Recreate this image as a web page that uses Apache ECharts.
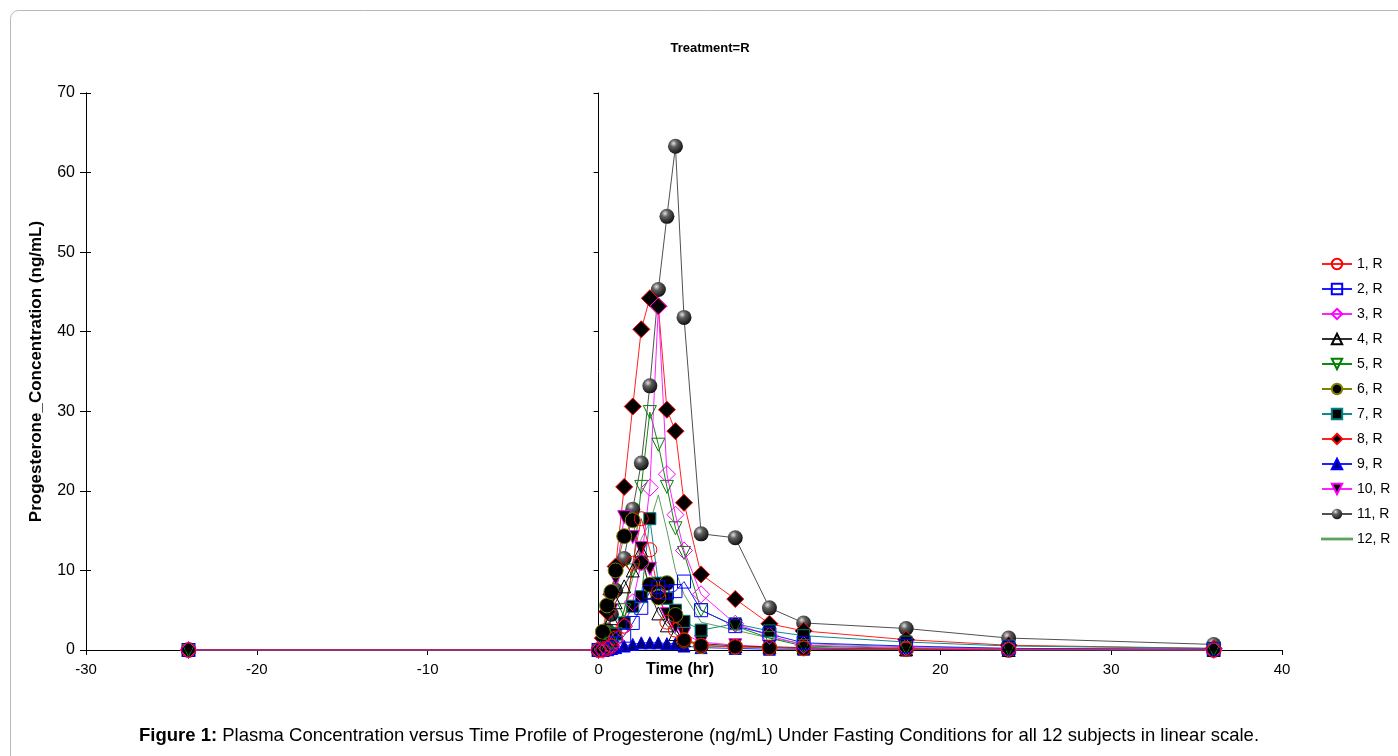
<!DOCTYPE html>
<html>
<head>
<meta charset="utf-8">
<script src="https://cdn.jsdelivr.net/npm/echarts@6/dist/echarts.min.js"></script>
<style>
html,body{margin:0;padding:0;background:#fff;}
#chart{width:1398px;height:756px;}
</style>
</head>
<body>
<div id="chart"></div>
<script>
// Sampling times (hr)
var times = [-24, 0, 0.25, 0.5, 0.75, 1, 1.5, 2, 2.5, 3, 3.5, 4, 4.5, 5, 6, 8, 10, 12, 18, 24, 36];
// Concentrations (ng/mL) per subject
var s1  = [0, 0, 0, 0.2, 0.5, 1.5, 3.0, 10.9, 16.5, 12.6, 7.3, 3.5, 2.5, 1.3, 0.6, 0.4, 0.3, 0.2, 0.1, 0.1, 0];
var s2  = [0, 0, 0, 0.1, 0.3, 0.8, 1.8, 3.4, 5.3, 7.3, 7.9, 7.2, 7.4, 8.6, 5.0, 3.0, 2.0, 0.9, 0.5, 0.2, 0.1];
var s3  = [0, 0, 0, 0.2, 0.5, 1.2, 3.0, 6.0, 11.0, 20.4, 43.2, 22.1, 17.0, 12.5, 7.0, 3.3, 1.8, 0.6, 0.3, 0.1, 0];
var s4  = [0, 0, 0.5, 2.0, 4.0, 6.0, 8.0, 10.0, 12.5, 7.2, 4.6, 3.1, 2.0, 1.2, 0.8, 0.5, 0.4, 0.3, 0.1, 0, 0];
var s5  = [0, 0, 0, 0.3, 0.8, 2.0, 5.0, 10.0, 20.5, 29.9, 25.8, 20.5, 15.3, 12.2, 5.0, 3.0, 1.5, 0.5, 0.2, 0.1, 0];
var s6  = [0, 0, 2.3, 5.6, 7.3, 10.0, 14.3, 16.3, 11.0, 8.2, 6.6, 8.4, 4.4, 1.2, 0.5, 0.4, 0.3, 0.2, 0.1, 0, 0];
var s7  = [0, 0, 0.2, 0.5, 1.0, 2.0, 3.4, 5.5, 6.7, 16.5, 8.4, 6.5, 5.0, 3.6, 2.5, 3.3, 2.4, 1.8, 1.0, 0.5, 0.2];
var s8  = [0, 0, 1.5, 4.8, 7.0, 10.5, 20.5, 30.6, 40.3, 44.2, 43.2, 30.2, 27.5, 18.5, 9.5, 6.4, 3.3, 2.4, 1.3, 0.6, 0.2];
var s9  = [0, 0, 0, 0.1, 0.2, 0.3, 0.5, 0.7, 0.9, 0.9, 0.9, 0.8, 0.8, 0.5, 0.3, 0.2, 0.1, 0.1, 0, 0, 0];
var s10 = [0, 0, 0.5, 2.0, 5.0, 9.0, 16.7, 14.2, 12.8, 10.2, 6.5, 4.5, 3.0, 2.0, 1.0, 0.6, 0.4, 0.2, 0.1, 0, 0];
var s11 = [0, 0, 0.5, 2.5, 4.5, 7.5, 11.5, 17.7, 23.5, 33.2, 45.3, 54.5, 63.3, 41.8, 14.6, 14.1, 5.3, 3.4, 2.7, 1.5, 0.7];
var s12 = [0, 0, 0, 0.3, 1.0, 2.0, 5.0, 9.0, 14.0, 16.0, 19.5, 15.0, 10.0, 7.0, 3.5, 2.5, 1.5, 0.8, 0.4, 0.2, 0.1];
var subjectNames = ['1, R','2, R','3, R','4, R','5, R','6, R','7, R','8, R','9, R','10, R','11, R','12, R'];
var xTicks = [-30, -20, -10, 0, 10, 20, 30, 40];
var yTicks = [0, 10, 20, 30, 40, 50, 60, 70];

var FONT = '"Liberation Sans", Arial, sans-serif';
var invTri = 'path://M0,0 L10,0 L5,9 Z';
var lineIcon = 'path://M0,0 L40,0 L40,1 L0,1 Z';
var sphere = {
  type: 'radial', x: 0.38, y: 0.32, r: 0.75,
  colorStops: [{offset: 0, color: '#e0e0e0'}, {offset: 0.3, color: '#606060'}, {offset: 1, color: '#000'}]
};
var styles = [
  {line: '#ff2020', symbol: 'circle', size: 14, fill: 'rgba(0,0,0,0)', border: '#ff0000'},
  {line: '#2020ff', symbol: 'rect', size: 13, fill: 'rgba(0,0,0,0)', border: '#0000ff'},
  {line: '#ff20ff', symbol: 'diamond', size: 17, fill: 'rgba(0,0,0,0)', border: '#ff00ff'},
  {line: '#303030', symbol: 'triangle', size: 13, fill: 'rgba(0,0,0,0)', border: '#000000'},
  {line: '#108a10', symbol: invTri, size: 13, fill: 'rgba(0,0,0,0)', border: '#008000'},
  {line: '#808000', symbol: 'circle', size: 15, fill: '#000', border: '#808000'},
  {line: '#108a8a', symbol: 'rect', size: 12, fill: '#000', border: '#008080'},
  {line: '#ff2020', symbol: 'diamond', size: 17, fill: '#000', border: '#ff0000'},
  {line: '#2020ff', symbol: 'triangle', size: 12, fill: '#000080', border: '#0000ff'},
  {line: '#ff20ff', symbol: invTri, size: 13, fill: '#000', border: '#ff00ff'},
  {line: '#505050', symbol: 'circle', size: 15, fill: sphere, border: 'rgba(0,0,0,0)'},
  {line: '#5f9f5f', symbol: 'none', size: 0, fill: '#5f9f5f', border: '#5f9f5f'}
];
var allData = [s1, s2, s3, s4, s5, s6, s7, s8, s9, s10, s11, s12];

var series = [];
for (var i = allData.length - 1; i >= 0; i--) {
  var st = styles[i];
  series.push({
    name: subjectNames[i],
    type: 'line',
    xAxisIndex: 0, yAxisIndex: 0,
    data: times.map(function (t, k) { return [t, allData[i][k]]; }),
    symbol: st.symbol,
    symbolSize: st.size,
    showSymbol: st.symbol !== 'none',
    lineStyle: {color: st.line, width: 1},
    itemStyle: {color: st.fill, borderColor: st.border, borderWidth: 1},
    emphasis: {disabled: true},
    animation: false,
    z: 3
  });
}

var legendData = subjectNames.map(function (n, k) {
  return k === 11 ? {name: n, icon: lineIcon, itemStyle: {color: '#5f9f5f'}} : {name: n};
});

var yBase = {
  type: 'value', min: 0, max: 70, interval: 10, gridIndex: 0,
  splitLine: {show: false}
};

var option = {
  backgroundColor: '#fff',
  animation: false,
  title: {
    text: 'Treatment=R',
    left: 705, top: 37, textAlign: 'center',
    textStyle: {fontFamily: FONT, fontSize: 13, fontWeight: 'bold', color: '#000'}
  },
  legend: {
    orient: 'vertical',
    left: 1316, top: 252,
    itemWidth: 30, itemHeight: 13, itemGap: 11,
    data: legendData,
    textStyle: {fontFamily: FONT, fontSize: 14, color: '#000'},
    selectedMode: false
  },
  grid: {left: 86, right: 116, top: 93, bottom: 106, containLabel: false},
  xAxis: {
    type: 'value', min: -30, max: 40, interval: 10,
    name: 'Time (hr)', nameLocation: 'middle', nameGap: 12, nameMoveOverlap: false,
    nameTextStyle: {fontFamily: FONT, fontSize: 16, fontWeight: 'bold', color: '#000', padding: [0, 0, 0, -8]},
    axisLine: {onZero: false, lineStyle: {color: '#000', width: 1}},
    axisTick: {show: true, length: 5, lineStyle: {color: '#000'}},
    axisLabel: {fontFamily: FONT, fontSize: 15, color: '#000', margin: 12,
      formatter: function (v) { return xTicks.indexOf(v) >= 0 ? String(v) : ''; }},
    splitLine: {show: false}
  },
  yAxis: [
    Object.assign({}, yBase, {
      position: 'left',
      name: 'Progesterone_Concentration (ng/mL)', nameLocation: 'middle', nameGap: 41, nameRotate: 90,
      nameMoveOverlap: false,
      nameTextStyle: {fontFamily: FONT, fontSize: 17, fontWeight: 'bold', color: '#000'},
      axisLine: {show: true, onZero: false, lineStyle: {color: '#000', width: 1}},
      axisTick: {show: true, length: 6, lineStyle: {color: '#000'}},
      axisLabel: {fontFamily: FONT, fontSize: 16, color: '#000', margin: 11,
        formatter: function (v) { return yTicks.indexOf(v) >= 0 ? String(v) : ''; }}
    }),
    Object.assign({}, yBase, {
      position: 'left',
      axisLine: {show: true, onZero: true, lineStyle: {color: '#000', width: 1}},
      axisTick: {show: true, length: 5, inside: false, lineStyle: {color: '#000'}},
      axisLabel: {show: false}
    }),
    Object.assign({}, yBase, {
      position: 'left',
      axisLine: {show: true, onZero: true, lineStyle: {color: '#000', width: 1}},
      axisTick: {show: true, length: 5, inside: true, lineStyle: {color: '#000'}},
      axisLabel: {show: false}
    })
  ],
  graphic: [
    {
      type: 'rect', left: 10, top: 10, z: -10, silent: true,
      shape: {width: 1400, height: 760, r: 8},
      style: {fill: 'rgba(0,0,0,0)', stroke: '#b8b8b8', lineWidth: 1}
    },
    {
      type: 'text', left: 'center', top: 726, silent: true,
      style: {
        text: '{b|Figure 1:} Plasma Concentration versus Time Profile of Progesterone (ng/mL) Under Fasting Conditions for all 12 subjects in linear scale.',
        font: '18.5px "Liberation Sans", Arial, sans-serif',
        fill: '#000',
        rich: {b: {fontWeight: 'bold', fontSize: 18.5, fontFamily: FONT, fill: '#000'}}
      }
    }
  ],
  series: series
};

var chart = echarts.init(document.getElementById('chart'), null, {renderer: 'canvas'});
chart.setOption(option);
</script>
</body>
</html>
